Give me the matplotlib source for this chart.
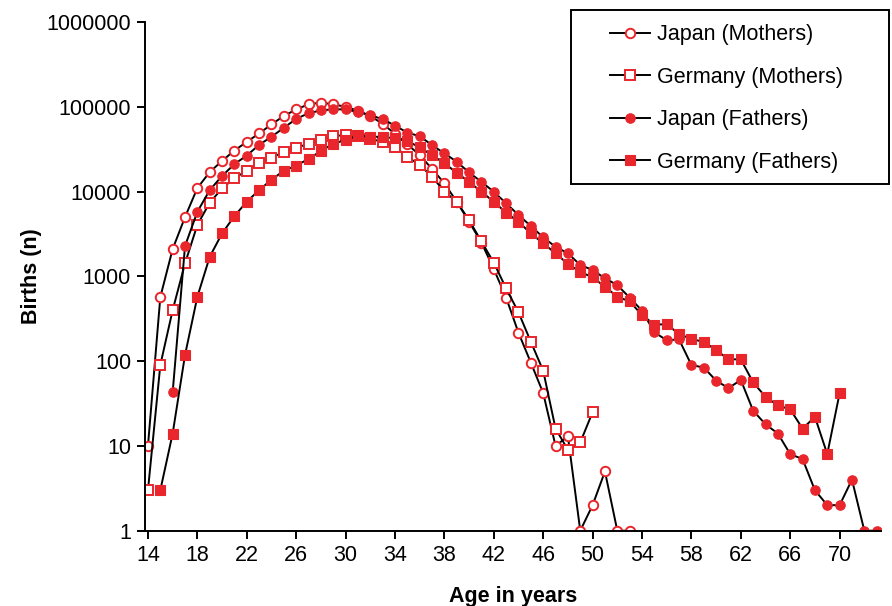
import matplotlib
matplotlib.use("Agg")
import matplotlib.pyplot as plt
from matplotlib.patches import Rectangle
from matplotlib.ticker import FixedLocator, NullLocator

plt.rcParams['font.family'] = ['Liberation Sans', 'DejaVu Sans']

# 数据
ages_jm = list(range(14, 54))
japan_mothers = [10, 570, 2100, 5000, 11000, 17000, 23000, 30500, 38500, 48500,
                 62000, 78000, 93000, 107000, 112000, 107000, 100000, 90000, 78000, 63000,
                 48000, 36000, 27000, 18500, 12500, 7600, 4400, 2500, 1220, 560,
                 216, 96, 42, 10, 13, 1, 2, 5, 1, 1]

ages_gm = list(range(14, 51))
germany_mothers = [3, 90, 400, 1420, 4050, 7400, 10900, 14400, 17600, 21700,
                   25000, 29500, 33000, 36500, 40400, 45500, 46000, 45000, 42000, 38500,
                   33500, 25800, 20500, 15000, 10000, 7600, 4600, 2580, 1450, 720,
                   376, 169, 77, 16, 9, 11, 25]

ages_jf = list(range(16, 74))
japan_fathers = [43, 2280, 5780, 10400, 15300, 21100, 26600, 35600, 44300, 56500,
                 72000, 84000, 90500, 93500, 93000, 87000, 79500, 71500, 60000, 49500,
                 45000, 35300, 28200, 22500, 16800, 13000, 9950, 7260, 5290, 3920,
                 2880, 2230, 1870, 1360, 1190, 947, 789, 560, 395, 218,
                 177, 180, 90, 84, 59, 48, 60, 26, 18, 14,
                 8, 7, 3, 2, 2, 4, 1, 1]

ages_gf = list(range(15, 71))
germany_fathers = [3, 14, 118, 575, 1700, 3210, 5140, 7590, 10400, 13800,
                   17600, 20200, 24300, 30000, 36800, 40400, 46000, 44300, 44300, 42400,
                   39500, 33200, 26900, 21500, 16700, 13000, 9950, 7590, 5620, 4400,
                   3210, 2450, 1870, 1400, 1130, 973, 754, 575, 506, 350,
                   270, 272, 209, 182, 169, 135, 105, 105, 56, 38,
                   30, 27, 16, 22, 8, 42]

x_ticks = list(range(14, 71, 4))
y_ticks = [1, 10, 100, 1000, 10000, 100000, 1000000]

RED = '#e8262b'

series = [
    (ages_jm, japan_mothers, 'Japan (Mothers)', 'o', 'white'),
    (ages_gm, germany_mothers, 'Germany (Mothers)', 's', 'white'),
    (ages_jf, japan_fathers, 'Japan (Fathers)', 'o', RED),
    (ages_gf, germany_fathers, 'Germany (Fathers)', 's', RED),
]

fig = plt.figure(figsize=(8.92, 6.06), dpi=100)
ax = fig.add_axes([145 / 892, 75.3 / 606, 736 / 892, 508.7 / 606])

for xs, ys, label, marker, face in series:
    ax.plot(xs, ys, color='black', linewidth=1.4, marker=marker,
            markersize=6.8, markerfacecolor=face, markeredgecolor=RED,
            markeredgewidth=1.4 if face == 'white' else 0.8, label=label)

ax.set_yscale('log')
ax.set_ylim(1, 1000000)
ax.set_xlim(13.76, 73.35)
ax.yaxis.set_major_locator(FixedLocator(y_ticks))
ax.yaxis.set_minor_locator(NullLocator())
ax.set_yticklabels([str(v) for v in y_ticks])
ax.set_xticks(x_ticks)
ax.set_xticklabels([str(v) for v in x_ticks])

for side in ['top', 'right']:
    ax.spines[side].set_visible(False)
for side in ['left', 'bottom']:
    ax.spines[side].set_linewidth(1.4)
ax.tick_params(axis='both', direction='out', length=6, width=1.4,
               labelsize=15.5, pad=4)

ax.set_xlabel('Age in years', fontsize=15.5, fontweight='bold', labelpad=15)
ax.set_ylabel('Births (n)', fontsize=15.5, fontweight='bold', labelpad=3)

# 图例框
fig.patches.append(Rectangle((571 / 892, 1 - 184 / 606), 318 / 892, 174 / 606,
                             transform=fig.transFigure, fill=False,
                             edgecolor='black', linewidth=1.4))
fig.legend(loc='upper left', bbox_to_anchor=(593 / 892, 1 - 7 / 606),
           frameon=False, fontsize=15.5, handlelength=1.86, handletextpad=0.33,
           labelspacing=1.0, borderpad=0.3)

fig.savefig('out.png', dpi=100)
